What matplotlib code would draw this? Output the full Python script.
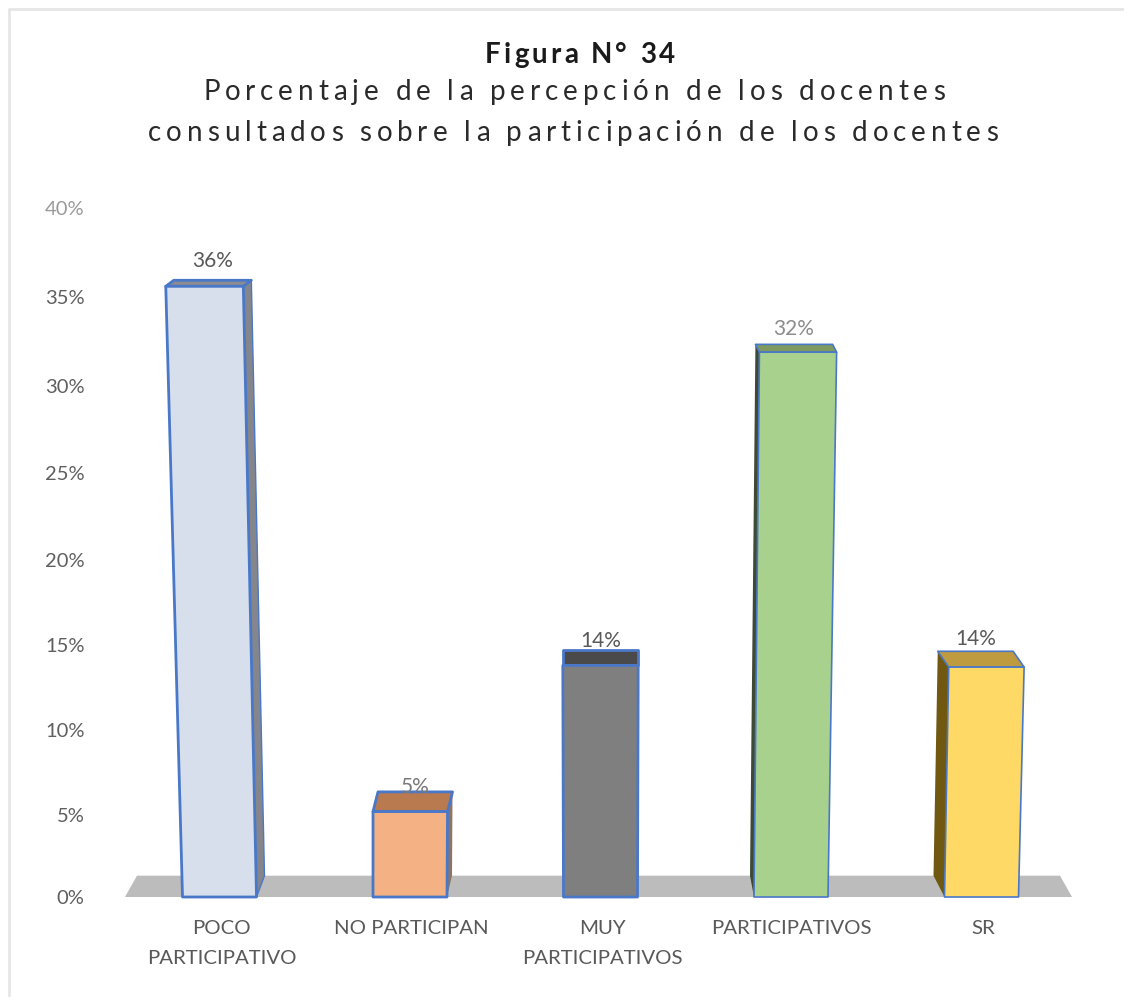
import numpy as np
import matplotlib
matplotlib.use("Agg")
import matplotlib.pyplot as plt
from matplotlib.lines import Line2D
from matplotlib.patches import Polygon
from matplotlib.text import Text
from matplotlib.transforms import IdentityTransform

categorias = ["POCO\nPARTICIPATIVO", "NO PARTICIPAN", "MUY\nPARTICIPATIVOS", "PARTICIPATIVOS", "SR"]
alturas = [35.6, 5.2, 13.8, 31.9, 13.7]
etiquetas = ["36%", "5%", "14%", "32%", "14%"]
ticks = [0, 5, 10, 15, 20, 25, 30, 35, 40]
tick_labels = ["0%", "5%", "10%", "15%", "20%", "25%", "30%", "35%", "40%"]

# colores y forma de cada barra
frente = ["#d6dfeb", "#f4b183", "#7f7f7f", "#a9d18e", "#ffd966"]
arriba = ["#8b8b92", "#b87a4e", "#4a4a4a", "#7f9a60", "#bf9b40"]
lado = ["#85858c", "#8f7462", "#4a4a4a", "#3f4a35", "#705810"]
borde_lado = ["#4a78c8", "none", "none", "none", "none"]
grosor = [2, 2, 2, 1.2, 1.2]
inclina = [-0.42, 0.05, 0.0, 0.22, 0.36]
prof_x = [8, 5, 0, -4, -11]
color_etq = ["#595959", "#7a7a7a", "#595959", "#8c8c8c", "#595959"]
sube_etq = [19, 5, 9, 15, 12]
mueve_cat = [2, 1, 2, 0, 2]

# el grafico original es 3D: el eje no es del todo lineal
val_eje = [-6.4, 0, 5, 10, 15, 20, 25, 30, 35, 40, 52.1]
px_eje = [1002, 897, 815, 730, 645, 560, 473, 386, 297, 208, 0]
def forward(v):
    return -np.interp(v, val_eje, px_eje)
def inverse(p):
    return np.interp(p, [-x for x in px_eje], val_eje)


class TextoEspaciado(Text):
    # texto con letras separadas hasta llenar un ancho dado en pixeles
    def __init__(self, x, y, s, ancho, **kw):
        super().__init__(x, y, s, ha="center", va="baseline", **kw)
        self.ancho = ancho

    def draw(self, renderer):
        s = self.get_text()
        fp = self.get_fontproperties()
        medir = lambda t: renderer.get_text_width_height_descent(t, fp, False)[0]
        barra = medir("|")
        pos = [medir(s[:k] + "|") - barra for k in range(len(s))]
        extra = (self.ancho - medir(s)) / (len(s) - 1)
        x0, y0 = self.get_transform().transform(self.get_position())
        for k, ch in enumerate(s):
            if ch == " ":
                continue
            t = Text(x0 - self.ancho / 2 + pos[k] + k * extra, y0, ch, fontproperties=fp, color=self.get_color(),
                     ha="left", va="baseline", transform=IdentityTransform())
            t.set_figure(self.get_figure())
            t.draw(renderer)


plt.rcParams["font.family"] = ["Lato", "DejaVu Sans"]
fig = plt.figure(figsize=(11.28, 10.02), dpi=100)
ax = fig.add_axes([0, 0, 1, 1])
ax.set_yscale("function", functions=(forward, inverse))
ax.set_xlim(0, 1128)
ax.set_ylim(-6.4, 52.1)
ax.patch.set_alpha(0)
for s in ax.spines.values():
    s.set_visible(False)

# solo se ve el marco arriba y a la izquierda
fig.add_artist(Line2D([9 / 1128, 9 / 1128, 1122 / 1128], [1 - 995 / 1002, 1 - 9 / 1002, 1 - 9 / 1002],
                      color="#e6e6e6", lw=2))

centros = 219.5 + 190.5 * np.arange(len(alturas))
ancho = 37

# piso gris
fondo = 1.3
ax.add_patch(Polygon([(125, 0), (137, fondo), (1060, fondo), (1072, 0)], fc="#bdbcbc", ec="none", zorder=1))

for i, v in enumerate(alturas):
    c = centros[i]
    dx = prof_x[i]
    prof = 1.3 - 0.027 * v
    sx = inclina[i] * v
    w = ancho + 0.05 * v
    ab_i, ab_d = c - ancho, c + ancho
    ar_i, ar_d = c + sx - w, c + sx + w
    kw = dict(ec="#4a78c8", lw=grosor[i], joinstyle="round", zorder=2)
    if dx > 0:
        ax.add_patch(Polygon([(ab_d, 0), (ab_d + dx, fondo), (ar_d + dx, v + prof), (ar_d, v)], fc=lado[i],
                             ec=borde_lado[i], lw=1, zorder=2))
    elif dx < 0:
        ax.add_patch(Polygon([(ab_i, 0), (ab_i + dx, fondo), (ar_i + dx, v + prof), (ar_i, v)], fc=lado[i], ec="none", zorder=2))
    ax.add_patch(Polygon([(ar_i, v), (ar_i + dx, v + prof), (ar_d + dx, v + prof), (ar_d, v)], fc=arriba[i], **kw))
    ax.add_patch(Polygon([(ab_i, 0), (ar_i, v), (ar_d, v), (ab_d, 0)], fc=frente[i], **kw))
    ax.annotate(etiquetas[i], (c + sx + dx, v + prof), xytext=(0, sube_etq[i] * 0.72), textcoords="offset points",
                ha="center", va="center", fontsize=15, color=color_etq[i], zorder=5)

ax.set_yticks(ticks)
ax.set_yticklabels(tick_labels, fontsize=14.5, color="#5f5f5f")
ax.get_yticklabels()[-1].set_color("#9a9a9a")
ax.set_xticks(centros + np.array(mueve_cat))
ax.set_xticklabels(categorias, fontsize=14.7, color="#595959", linespacing=1.95)
ax.minorticks_off()
ax.tick_params(axis="y", length=0, pad=-61)
ax.tick_params(axis="x", length=0, pad=-59)

tf = IdentityTransform()
alto = 1002
fig.add_artist(TextoEspaciado(580, alto - 63, "Figura N° 34", 190, fontsize=20, fontweight="bold",
                              color="#1a1a1a", transform=tf))
fig.add_artist(TextoEspaciado(574, alto - 100, "Porcentaje de la percepción de los docentes", 742, fontsize=20,
                              color="#2a2a2a", transform=tf))
fig.add_artist(TextoEspaciado(573, alto - 141, "consultados sobre la participación de los docentes", 850, fontsize=20,
                              color="#2a2a2a", transform=tf))

fig.savefig("out.png", dpi=100)
